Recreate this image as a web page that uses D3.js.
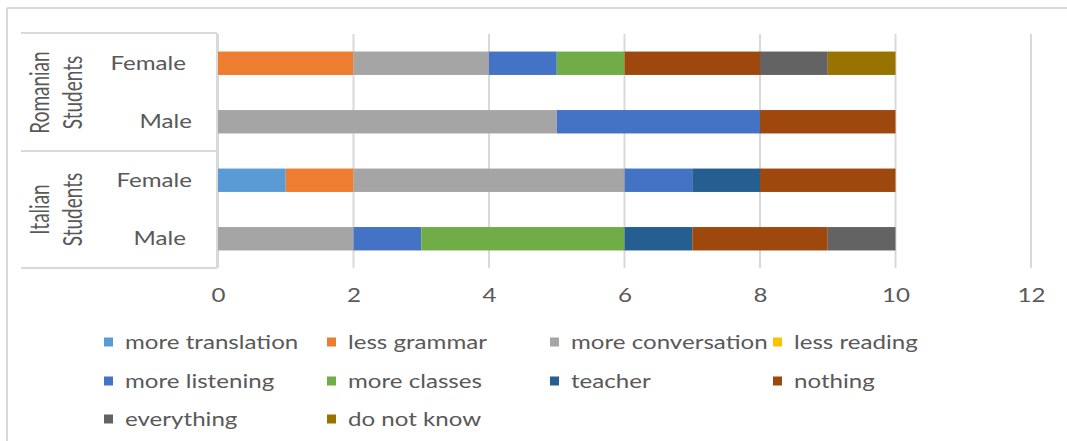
<!DOCTYPE html>
<html>
<head>
<meta charset="utf-8">
<script src="https://cdn.jsdelivr.net/npm/d3@7"></script>
<style>
  html, body { margin: 0; padding: 0; background: #fff; }
  svg { display: block; }
  text { font-family: Lato, "Open Sans", sans-serif; fill: #595959; }
</style>
</head>
<body>
<svg id="chart" width="1067" height="441"></svg>
<script>
// Survey answers: what students would change in their language classes
const groups = ["Romanian Students", "Italian Students"];
const rows = [
  { group: "Romanian Students", gender: "Female" },
  { group: "Romanian Students", gender: "Male" },
  { group: "Italian Students", gender: "Female" },
  { group: "Italian Students", gender: "Male" }
];
const seriesNames = ["more translation", "less grammar", "more conversation", "less reading",
  "more listening", "more classes", "teacher", "nothing", "everything", "do not know"];
const seriesColors = ["#5B9BD5", "#ED7D31", "#A5A5A5", "#FFC000",
  "#4472C4", "#70AD47", "#255E91", "#9E480E", "#636363", "#997300"];

// counts per series, in row order: RO Female, RO Male, IT Female, IT Male
const moreTranslation  = [0, 0, 1, 0];
const lessGrammar      = [2, 0, 1, 0];
const moreConversation = [2, 5, 4, 2];
const lessReading      = [0, 0, 0, 0];
const moreListening    = [1, 3, 1, 1];
const moreClasses      = [1, 0, 0, 3];
const teacher          = [0, 0, 1, 1];
const nothing          = [2, 2, 2, 2];
const everything       = [1, 0, 0, 1];
const doNotKnow        = [1, 0, 0, 0];
const xTicks = [0, 2, 4, 6, 8, 10, 12];

const seriesValues = [moreTranslation, lessGrammar, moreConversation, lessReading,
  moreListening, moreClasses, teacher, nothing, everything, doNotKnow];

const table = rows.map((r, i) => {
  const o = { key: r.group + "|" + r.gender, group: r.group, gender: r.gender };
  seriesNames.forEach((s, j) => { o[s] = seriesValues[j][i]; });
  return o;
});

const svg = d3.select("#chart");
const SX = 1.27;         // horizontal stretch applied to all text
const FS = 19;

const plot = { left: 218, right: 1031, top: 34, bottom: 268 };
const x = d3.scaleLinear().domain([0, 12]).range([plot.left, plot.right]);
const y = d3.scaleBand().domain(table.map(d => d.key))
  .range([plot.top, plot.bottom]).paddingInner(0.6).paddingOuter(0.3);
const color = d3.scaleOrdinal().domain(seriesNames).range(seriesColors);

// chart frame (top and left edges)
svg.append("line").attr("x1", 7).attr("x2", 1067).attr("y1", 8).attr("y2", 8)
  .attr("stroke", "#D9D9D9").attr("stroke-width", 2);
svg.append("line").attr("x1", 7).attr("x2", 7).attr("y1", 8).attr("y2", 441)
  .attr("stroke", "#D9D9D9").attr("stroke-width", 2);

// vertical gridlines
svg.append("g").selectAll("line").data(xTicks).join("line")
  .attr("x1", d => x(d)).attr("x2", d => x(d))
  .attr("y1", plot.top).attr("y2", plot.bottom)
  .attr("stroke", "#D9D9D9").attr("stroke-width", 2);

// stacked bars
const stack = d3.stack().keys(seriesNames)(table);
svg.append("g").selectAll("g").data(stack).join("g")
  .attr("fill", d => color(d.key))
  .selectAll("rect").data(d => d).join("rect")
  .attr("x", d => x(d[0]))
  .attr("width", d => x(d[1]) - x(d[0]))
  .attr("y", d => y(d.data.key))
  .attr("height", y.bandwidth());

// x axis tick labels
const xAxis = d3.axisBottom(x).tickValues(xTicks).tickSize(0).tickPadding(0);
const ax = svg.append("g").attr("transform", `translate(0,${plot.bottom})`).call(xAxis);
ax.select(".domain").remove();
ax.selectAll(".tick text")
  .attr("y", 0).attr("dy", 0)
  .attr("transform", `translate(0,34) scale(${SX},1)`)
  .style("font-size", FS + "px").style("font-family", "Lato, sans-serif").attr("fill", "#595959");

// category table on the left
const tbl = svg.append("g").attr("stroke", "#D9D9D9").attr("stroke-width", 2);
const groupBounds = [plot.top - 1, (plot.top + plot.bottom) / 2, plot.bottom];
groupBounds.forEach(b => {
  tbl.append("line").attr("x1", 21).attr("x2", plot.left - 1).attr("y1", b).attr("y2", b);
});
tbl.append("line").attr("x1", plot.left - 1).attr("x2", plot.left - 1)
  .attr("y1", plot.top - 1).attr("y2", plot.bottom);

// gender labels
const labelEnd = { "Romanian Students|Female": 186, "Romanian Students|Male": 192,
  "Italian Students|Female": 192, "Italian Students|Male": 186 };
svg.append("g").selectAll("text").data(table).join("text")
  .attr("transform", d => `translate(${labelEnd[d.key]},${y(d.key) + y.bandwidth() / 2}) scale(${SX},1)`)
  .attr("text-anchor", "end").attr("dy", "0.35em")
  .style("font-size", FS + "px")
  .text(d => d.gender);

// group labels, rotated, two lines each
groups.forEach(g => {
  const keys = table.filter(d => d.group === g).map(d => d.key);
  const yc = (y(keys[0]) + y(keys[keys.length - 1]) + y.bandwidth()) / 2;
  const words = g.split(" ");
  const t = svg.append("text")
    .attr("transform", `translate(56,${yc}) scale(1.45,1) rotate(-90)`)
    .attr("text-anchor", "middle")
    .style("font-size", FS + "px");
  words.forEach((w, i) => {
    t.append("tspan").attr("x", 0).attr("y", (i - (words.length - 1) / 2) * 22.5 + 6.5).text(w);
  });
});

// legend, four columns
const legendCols = [104, 327, 550, 773];
const legendRows = [342, 381, 419];
const lg = svg.append("g").selectAll("g").data(seriesNames).join("g")
  .attr("transform", (d, i) => `translate(${legendCols[i % 4]},${legendRows[Math.floor(i / 4)]})`);
lg.append("rect").attr("x", 0).attr("y", -4.5).attr("width", 9).attr("height", 9)
  .attr("fill", d => color(d));
lg.append("text")
  .attr("transform", `translate(21,0) scale(${SX},1)`)
  .attr("dy", "0.35em")
  .style("font-size", FS + "px")
  .text(d => d);
</script>
</body>
</html>
